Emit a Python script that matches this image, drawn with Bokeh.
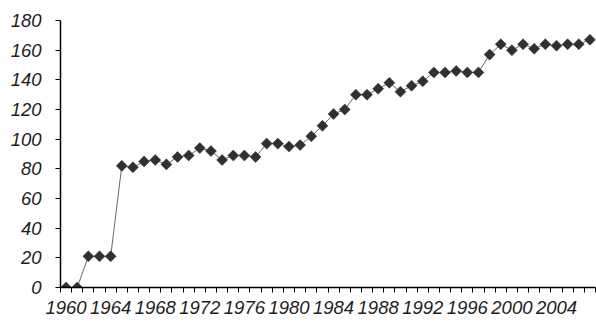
import math
from bokeh.plotting import figure
from bokeh.models import Range1d, FixedTicker
from bokeh.embed import file_html
from bokeh.resources import INLINE

# Data
years = list(range(1960, 2008))
values = [0, 0, 21, 21, 21, 82, 81, 85, 86, 83,
          88, 89, 94, 92, 86, 89, 89, 88, 97, 97,
          95, 96, 102, 109, 117, 120, 130, 130, 134, 138,
          132, 136, 139, 145, 145, 146, 145, 145, 157, 164,
          160, 164, 161, 164, 163, 164, 164, 167]
x_tick_labels = ["1960", "1964", "1968", "1972", "1976", "1980",
                 "1984", "1988", "1992", "1996", "2000", "2004"]
y_ticks = [0, 20, 40, 60, 80, 100, 120, 140, 160, 180]

label_years = [int(s) for s in x_tick_labels]
boundaries = [y - 0.5 for y in years] + [years[-1] + 0.5]

FONT = "Liberation Sans"
TXT = "#1e1e1e"
FS = "18.5px"

p = figure(width=596, height=322, output_backend="svg", toolbar_location=None,
           x_range=Range1d(years[0] - 0.5, years[-1] + 0.5),
           y_range=Range1d(0, 180),
           min_border_left=60, min_border_right=1, min_border_top=20,
           min_border_bottom=35)
p.outline_line_color = None
p.xgrid.grid_line_color = None
p.ygrid.grid_line_color = None
p.background_fill_color = "white"
p.border_fill_color = "white"

p.line(years, values, line_color="#6a6a6a", line_width=1)
p.scatter(years, values, marker="square", size=7.8, angle=math.pi / 4,
          fill_color="#303030", line_color="#303030", line_width=0.5)

xa = p.xaxis[0]
xa.ticker = FixedTicker(ticks=label_years, minor_ticks=boundaries)
xa.major_label_overrides = {str(y): s for y, s in zip(label_years, x_tick_labels)}
xa.major_tick_line_color = None
xa.major_tick_out = 5
xa.major_tick_in = 0
xa.minor_tick_out = 5
xa.minor_tick_in = 0
xa.minor_tick_line_color = "black"
xa.minor_tick_line_width = 1
xa.axis_line_color = "black"
xa.axis_line_width = 1.5
xa.major_label_standoff = 8
xa.major_label_text_font = FONT
xa.major_label_text_font_style = "italic"
xa.major_label_text_font_size = FS
xa.major_label_text_color = TXT

ya = p.yaxis[0]
ya.ticker = FixedTicker(ticks=y_ticks)
ya.minor_tick_line_color = None
ya.major_tick_out = 5
ya.major_tick_in = 0
ya.major_tick_line_color = "black"
ya.axis_line_color = "black"
ya.axis_line_width = 1.5
ya.major_label_standoff = 14
ya.major_label_text_font = FONT
ya.major_label_text_font_style = "italic"
ya.major_label_text_font_size = FS
ya.major_label_text_color = TXT

open("out.html", "w").write(file_html(p, INLINE))
